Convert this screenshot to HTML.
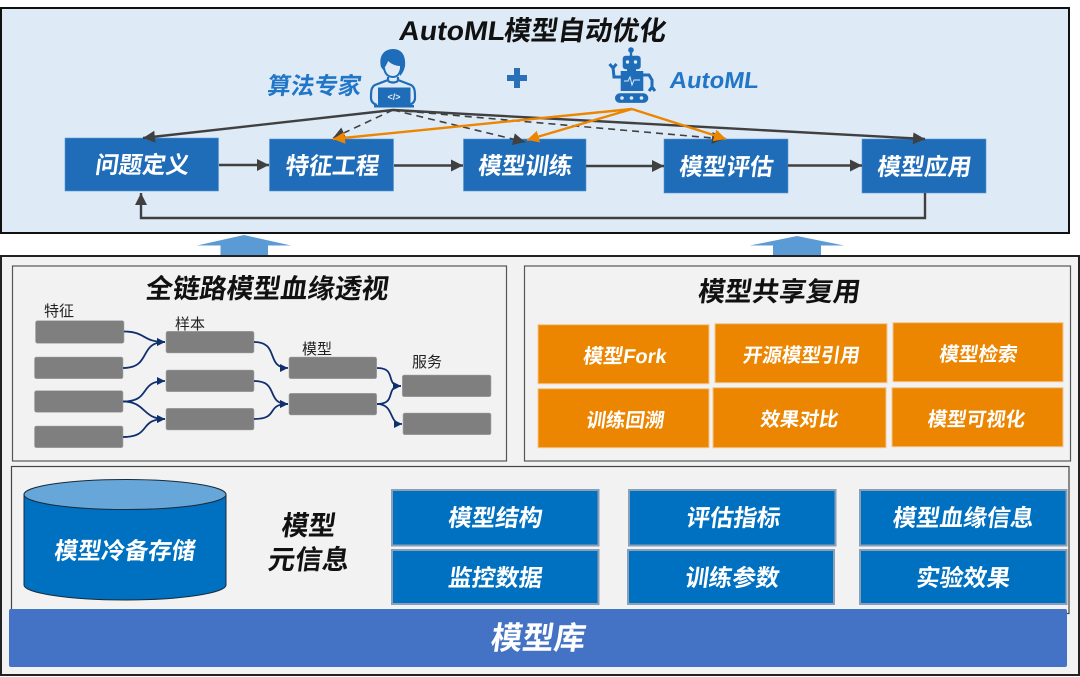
<!DOCTYPE html>
<html lang="zh">
<head>
<meta charset="utf-8">
<title>AutoML模型自动优化</title>
<style>
html,body{margin:0;padding:0;background:#fff;width:1080px;height:677px;overflow:hidden}
svg{display:block}
text{font-family:"Liberation Sans","Noto Sans CJK SC",sans-serif}
.t{font-weight:700;text-anchor:middle;transform-box:fill-box;transform-origin:center;transform:translateX(1.5px) skewX(-8deg)}
.w{fill:#fff}
.k{fill:#111}
.l{font-size:15px;fill:#222;font-weight:400}
.g{fill:#7f7f7f;stroke:#a8a8a8;stroke-width:.6}
.o{fill:#ec8500;stroke:#f3c58c;stroke-width:1}
.m{fill:#0070c0;stroke:#8a9fb8;stroke-width:2}
.b{fill:#1f6cb8;stroke:#5a97d2;stroke-width:.6}
.c{fill:none;stroke:#0f2f6e;stroke-width:1.8}
</style>
</head>
<body>
<svg width="1080" height="677" viewBox="0 0 1080 677" xmlns="http://www.w3.org/2000/svg">
<defs>
<marker id="ad" markerWidth="14" markerHeight="14" refX="12" refY="6" orient="auto" markerUnits="userSpaceOnUse"><path d="M0,0 L12,6 L0,12 Z" fill="#404040"/></marker>
<marker id="ao" markerWidth="14" markerHeight="14" refX="12" refY="6" orient="auto" markerUnits="userSpaceOnUse"><path d="M0,0 L12,6 L0,12 Z" fill="#ec8500"/></marker>
<marker id="an" markerWidth="9" markerHeight="9" refX="8" refY="4" orient="auto" markerUnits="userSpaceOnUse"><path d="M0,0 L8,4 L0,8 Z" fill="#0f2f6e"/></marker>
</defs>

<!-- top panel -->
<rect x="1" y="8" width="1068" height="225" fill="#deebf7" stroke="#111" stroke-width="2"/>
<text class="t k" x="451" y="40" font-size="27" textLength="106" lengthAdjust="spacingAndGlyphs">AutoML</text>
<text class="t k" x="584" y="40" font-size="27">模型自动优化</text>
<text class="t" x="313" y="94" font-size="23.5" fill="#2176c7">算法专家</text>
<text class="t" x="713" y="88" font-size="23" fill="#2176c7" textLength="89" lengthAdjust="spacingAndGlyphs">AutoML</text>

<!-- person icon -->
<g fill="#1f6cb8">
<path d="M381,67 C378,54 386,49 393,49 C402,49 406,56 405,66 C404,71 402,74 400,76 L400,66 C395,66 390,63 388,61 C387,65 384,67 384,71 Z"/>
<path d="M384,68 C385,74 388,77 393,77 C397,77 400,74 401,68" fill="none" stroke="#1f6cb8" stroke-width="2"/>
<path d="M388,77 L388,80 L375,85 C371,87 371,92 371,98 C371,102 374,104 377,105 M398,77 L398,80 L411,85 C415,87 415,92 415,98 C415,102 412,104 409,105 M388,81 C391,83 395,83 398,81" fill="none" stroke="#1f6cb8" stroke-width="2.200"/>
<rect x="378" y="87.500" width="32.500" height="17.500"/>
<rect x="374" y="105" width="40" height="2.500"/>
</g>
<text x="394" y="100" font-size="9" font-weight="700" fill="#deebf7" text-anchor="middle">&lt;/&gt;</text>

<!-- plus -->
<path d="M514,68 h6 v7 h7 v6 h-7 v7 h-6 v-7 h-7 v-6 h7 z" fill="#2a70b8"/>

<!-- robot icon -->
<g fill="#1f6cb8">
<circle cx="631" cy="50" r="2.800"/>
<rect x="629.800" y="50" width="2.400" height="6"/>
<rect x="622.700" y="55.700" width="18" height="13.600" rx="3"/>
<rect x="627" y="69" width="9" height="3"/>
<rect x="620.700" y="71" width="22.600" height="20"/>
<rect x="615" y="93.300" width="33.300" height="9.600" rx="4.800"/>
<path d="M621,77 L614,77 L613,67 M609.500,64 L613,68 L616.500,64" fill="none" stroke="#1f6cb8" stroke-width="3"/>
<path d="M643,75 L649,75 L652,80 L652,90 M649,91 L652,87 L655,91" fill="none" stroke="#1f6cb8" stroke-width="3"/>
</g>
<g fill="#deebf7"><circle cx="627.500" cy="62" r="1.700"/><circle cx="635.500" cy="62" r="1.700"/><circle cx="622" cy="98" r="1.800"/><circle cx="631.500" cy="98" r="1.800"/><circle cx="641.500" cy="98" r="1.800"/></g>
<path d="M624,81 h4 l2,-4 l2,8 l2,-5 h6" fill="none" stroke="#deebf7" stroke-width="1"/>

<!-- process boxes -->
<rect class="b" x="65" y="138" width="153.500" height="53"/>
<rect class="b" x="269.500" y="139" width="124" height="52"/>
<rect class="b" x="463.500" y="139" width="122.500" height="52"/>
<rect class="b" x="664" y="139" width="124" height="54"/>
<rect class="b" x="862" y="139" width="124" height="54"/>
<text class="t w" x="141" y="173" font-size="23.500">问题定义</text>
<text class="t w" x="331" y="174" font-size="23.500">特征工程</text>
<text class="t w" x="524" y="174" font-size="23.500">模型训练</text>
<text class="t w" x="725" y="175" font-size="23.500">模型评估</text>
<text class="t w" x="923" y="175" font-size="23.500">模型应用</text>

<!-- connectors -->
<g fill="none" stroke="#404040" stroke-width="2.400">
<path d="M219,165 L269,165" marker-end="url(#ad)"/>
<path d="M394,165.500 L463,165.500" marker-end="url(#ad)"/>
<path d="M586,166 L664,166" marker-end="url(#ad)"/>
<path d="M788,165.500 L862,165.500" marker-end="url(#ad)"/>
<path d="M925,193 L925,218 L141,218 L141,193" marker-end="url(#ad)"/>
<path d="M393,110 L143,138" marker-end="url(#ad)"/>
<path d="M393,110 L925,139" marker-end="url(#ad)"/>
<g stroke-width="1.600" stroke-dasharray="7 5">
<path d="M393,110 L333,138" marker-end="url(#ad)"/>
<path d="M393,110 L525,142" marker-end="url(#ad)"/>
<path d="M393,110 L724,139" marker-end="url(#ad)"/>
</g>
</g>
<g fill="none" stroke="#ec8500" stroke-width="2.400">
<path d="M632,109 L333,139" marker-end="url(#ao)"/>
<path d="M632,109 L527,140" marker-end="url(#ao)"/>
<path d="M632,109 L726,139" marker-end="url(#ao)"/>
</g>

<!-- up arrows -->
<path d="M244,235 L291,245.500 L268,245.500 L268,256 L220.500,256 L220.500,245.500 L197,245.500 Z" fill="#5b9bd5"/>
<path d="M797,236 L844,245.500 L821,245.500 L821,256 L773,256 L773,245.500 L750,245.500 Z" fill="#5b9bd5"/>

<!-- lower panel -->
<rect x="1" y="256" width="1078" height="419" fill="#f2f2f2" stroke="#222" stroke-width="2"/>
<rect x="12.500" y="266" width="494" height="195" fill="#f2f2f2" stroke="#555" stroke-width="1.200"/>
<rect x="524.500" y="266" width="546" height="195" fill="#f2f2f2" stroke="#555" stroke-width="1.200"/>
<rect x="11.500" y="466.500" width="1057.500" height="147" fill="#f2f2f2" stroke="#444" stroke-width="1.200"/>

<text class="t k" x="266" y="298" font-size="27">全链路模型血缘透视</text>
<text class="t k" x="778" y="301" font-size="27">模型共享复用</text>

<!-- lineage -->
<g class="g">
<rect x="35.500" y="320.700" width="88.500" height="22.600" rx="2"/>
<rect x="34.500" y="357" width="88.500" height="21.700" rx="2"/>
<rect x="34.500" y="390.700" width="88.500" height="21.600" rx="2"/>
<rect x="34.500" y="426" width="88.500" height="21.700" rx="2"/>
<rect x="166" y="331.300" width="88" height="21.700" rx="2"/>
<rect x="166" y="370" width="88" height="21.700" rx="2"/>
<rect x="166" y="408.300" width="88" height="21.700" rx="2"/>
<rect x="289" y="357" width="87.700" height="21.700" rx="2"/>
<rect x="289" y="393.300" width="87.700" height="21.700" rx="2"/>
<rect x="402.300" y="375" width="88.700" height="21.700" rx="2"/>
<rect x="403" y="413" width="88" height="21.700" rx="2"/>
</g>
<text class="l" x="44" y="316">特征</text>
<text class="l" x="175" y="329">样本</text>
<text class="l" x="302" y="354">模型</text>
<text class="l" x="412" y="367">服务</text>
<g class="c">
<path d="M124,331.500 C146,331.500 142,342 165,342" marker-end="url(#an)"/>
<path d="M123,368 C152,368 138,342 165,342" marker-end="url(#an)"/>
<path d="M123,401.500 C152,401.500 138,381 165,381" marker-end="url(#an)"/>
<path d="M123,401.500 C146,401.500 142,419 165,419" marker-end="url(#an)"/>
<path d="M123,437 C152,437 138,419 165,419" marker-end="url(#an)"/>
<path d="M254,342 C280,342 265,368 288,368" marker-end="url(#an)"/>
<path d="M254,381 C280,381 265,404 288,404" marker-end="url(#an)"/>
<path d="M254,419 C280,419 265,404 288,404" marker-end="url(#an)"/>
<path d="M377,368 C398,368 384,386 401,386" marker-end="url(#an)"/>
<path d="M377,404 C398,404 384,386 401,386" marker-end="url(#an)"/>
<path d="M377,404 C395,404 388,424 402,424" marker-end="url(#an)"/>
</g>

<!-- orange boxes -->
<rect class="o" x="538" y="324.700" width="171" height="59"/>
<rect class="o" x="715" y="323.700" width="172" height="59"/>
<rect class="o" x="893" y="322.700" width="170" height="59"/>
<rect class="o" x="538" y="388.700" width="171" height="59"/>
<rect class="o" x="713" y="387.700" width="173" height="60"/>
<rect class="o" x="892" y="387.700" width="171" height="59"/>
<text class="t w" x="623.500" y="363" font-size="20">模型Fork</text>
<text class="t w" x="800" y="362" font-size="19.500">开源模型引用</text>
<text class="t w" x="977" y="361" font-size="19.500">模型检索</text>
<text class="t w" x="624" y="427" font-size="19.500">训练回溯</text>
<text class="t w" x="798" y="426" font-size="19.500">效果对比</text>
<text class="t w" x="975" y="426" font-size="19.500">模型可视化</text>

<!-- cylinder -->
<path d="M24,494 L24,585 C24,593 69,600 125,600 C181,600 226,593 226,585 L226,494 Z" fill="#0070c0" stroke="#1a2a3a" stroke-width="1"/>
<ellipse cx="125" cy="494.500" rx="101" ry="15" fill="#66a6d9" stroke="#1a2a3a" stroke-width="1"/>
<text class="t w" x="123.500" y="559" font-size="23.500">模型冷备存储</text>

<text class="t k" x="307.500" y="535" font-size="27">模型</text>
<text class="t k" x="307.500" y="569" font-size="27">元信息</text>

<!-- meta boxes -->
<rect class="m" x="392" y="490" width="206.500" height="55.500"/>
<rect class="m" x="392" y="550" width="206.500" height="54"/>
<rect class="m" x="629" y="490" width="206.500" height="55.500"/>
<rect class="m" x="628" y="550" width="206" height="54"/>
<rect class="m" x="860" y="490" width="206.500" height="55.500"/>
<rect class="m" x="860" y="550" width="206.500" height="54"/>
<text class="t w" x="494" y="526" font-size="23.500">模型结构</text>
<text class="t w" x="494" y="586" font-size="23.500">监控数据</text>
<text class="t w" x="732" y="526" font-size="23.500">评估指标</text>
<text class="t w" x="731" y="586" font-size="23.500">训练参数</text>
<text class="t w" x="962" y="526" font-size="23.500">模型血缘信息</text>
<text class="t w" x="962" y="586" font-size="23.500">实验效果</text>

<!-- model store -->
<rect x="9" y="609" width="1058" height="58" rx="2" fill="#4472c4"/>
<text class="t w" x="537" y="649" font-size="31.500">模型库</text>
</svg>
</body>
</html>
